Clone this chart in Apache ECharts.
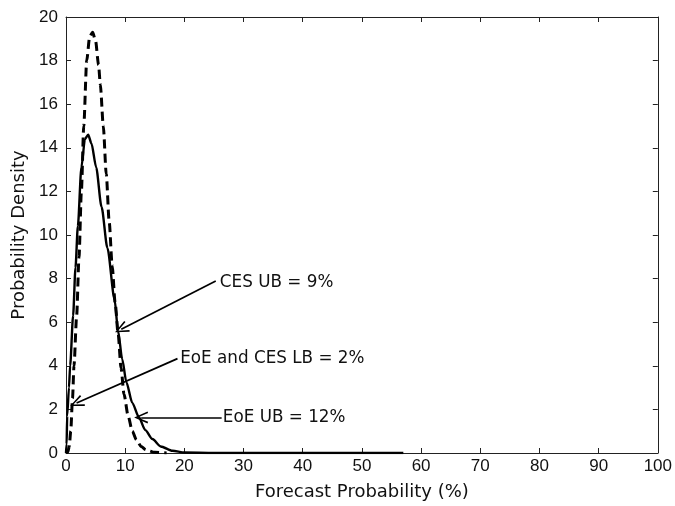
<!DOCTYPE html>
<html>
<head>
<meta charset="utf-8">
<script src="https://cdn.jsdelivr.net/npm/echarts@6/dist/echarts.min.js"></script>
<style>html,body{margin:0;padding:0;background:#fff}#c{width:675px;height:506px}</style>
</head>
<body>
<div id="c"></div>
<script>
// Solid curve (x %, density)
const solidX = [0, 0.1, 0.2, 0.5, 0.7, 1.2, 1.6, 2.0, 2.6, 3.2, 3.75, 4.3, 5.1, 6.0, 7.0, 8.2, 8.8, 9.5, 10.2, 11.2, 12.3, 13.4, 14.6, 16.0, 18.0, 20, 25, 57];
const solidY = [0, 0.4, 1.7, 3.0, 4.0, 6.3, 8.5, 10.4, 13.1, 14.4, 14.6, 14.2, 13.1, 11.3, 9.4, 7.05, 5.6, 4.3, 3.25, 2.3, 1.65, 1.05, 0.64, 0.3, 0.1, 0.02, 0, 0];
// Dashed curve
const dashX = [0, 0.3, 0.55, 0.8, 1.1, 1.35, 1.8, 2.2, 2.6, 3.0, 3.5, 4.0, 4.5, 5.0, 5.5, 5.8, 6.3, 6.8, 7.3, 7.8, 8.3, 8.8, 9.3, 9.8, 10.5, 11.2, 11.9, 12.7, 13.5, 15, 17];
const dashY = [0, 0.05, 0.3, 1.0, 2.5, 4.0, 6.3, 9.0, 12.0, 15.0, 18.0, 19.1, 19.3, 18.9, 17.8, 16.9, 15.0, 12.8, 10.6, 8.6, 6.9, 5.5, 3.9, 2.7, 1.7, 1.0, 0.6, 0.3, 0.15, 0.03, 0];
// Annotations: text, text anchor [x,y], arrow start [x,y], arrow tip [x,y]
const annTexts = ['CES UB = 9%', 'EoE and CES LB = 2%', 'EoE UB = 12%'];
const annTextPos = [[26.0, 7.83], [19.3, 4.33], [26.5, 1.63]];
const annFrom = [[25.3, 7.89], [18.84, 4.33], [26.3, 1.63]];
const annTo = [[9.34, 5.68], [1.79, 2.29], [12.7, 1.63]];

const TICKFONT = "'Liberation Sans', Arial, sans-serif";
const FONT = "'DejaVu Sans', sans-serif";
const chart = echarts.init(document.getElementById('c'), null, {renderer: 'canvas'});
const zip = (xs, ys) => xs.map((x, i) => [x, ys[i]]);
const chevron = 'path://M0,0 L-6,14 L-4.4,14.7 L0,3.6 L4.4,14.7 L6,14 Z';

function axisCommon() {
  return {
    axisLine: {show: true, onZero: false, lineStyle: {color: '#222', width: 1}},
    axisTick: {show: true, inside: true, length: 5, lineStyle: {color: '#222'}},
    splitLine: {show: false}
  };
}

chart.setOption({
  animation: false,
  backgroundColor: '#fff',
  grid: {left: 66, right: 13, top: 17, bottom: 52, containLabel: false},
  xAxis: [
    Object.assign({
      type: 'value', min: 0, max: 100, interval: 10, position: 'bottom',
      name: 'Forecast Probability (%)', nameLocation: 'middle', nameGap: 30,
      nameTextStyle: {fontFamily: FONT, fontSize: 18, color: '#111'},
      axisLabel: {fontFamily: TICKFONT, fontSize: 17, color: '#111', margin: 5}
    }, axisCommon()),
    Object.assign({
      type: 'value', min: 0, max: 100, interval: 10, position: 'top',
      axisLabel: {show: false}
    }, axisCommon())
  ],
  yAxis: [
    Object.assign({
      type: 'value', min: 0, max: 20, interval: 2, position: 'left',
      name: 'Probability Density', nameLocation: 'middle', nameGap: 37,
      nameTextStyle: {fontFamily: FONT, fontSize: 18, color: '#111'},
      axisLabel: {fontFamily: TICKFONT, fontSize: 17, color: '#111', margin: 8}
    }, axisCommon()),
    Object.assign({
      type: 'value', min: 0, max: 20, interval: 2, position: 'right',
      axisLabel: {show: false}
    }, axisCommon())
  ],
  series: [
    {
      type: 'line', data: zip(solidX, solidY), showSymbol: false, symbol: 'none',
      smooth: 0.25, smoothMonotone: 'x',
      lineStyle: {color: '#000', width: 2.4}, z: 3,
      markLine: {
        silent: true, animation: false,
        symbol: ['none', chevron], symbolSize: [12, 14],
        lineStyle: {color: '#000', width: 1.7, type: 'solid'},
        label: {show: false},
        data: annFrom.map((f, i) => [{coord: f}, {coord: annTo[i]}])
      },
      markPoint: {
        silent: true, animation: false, symbol: 'circle', symbolSize: 0,
        label: {show: true, position: 'right', distance: 0, fontFamily: FONT, fontSize: 16.8, color: '#111',
          formatter: p => p.name},
        data: annTexts.map((t, i) => ({name: t, coord: annTextPos[i]}))
      }
    },
    {
      type: 'line', data: zip(dashX, dashY), showSymbol: false, symbol: 'none',
      smooth: 0.25, smoothMonotone: 'x',
      lineStyle: {color: '#000', width: 3, type: [9, 5]}, z: 2
    }
  ]
});
</script>
</body>
</html>
